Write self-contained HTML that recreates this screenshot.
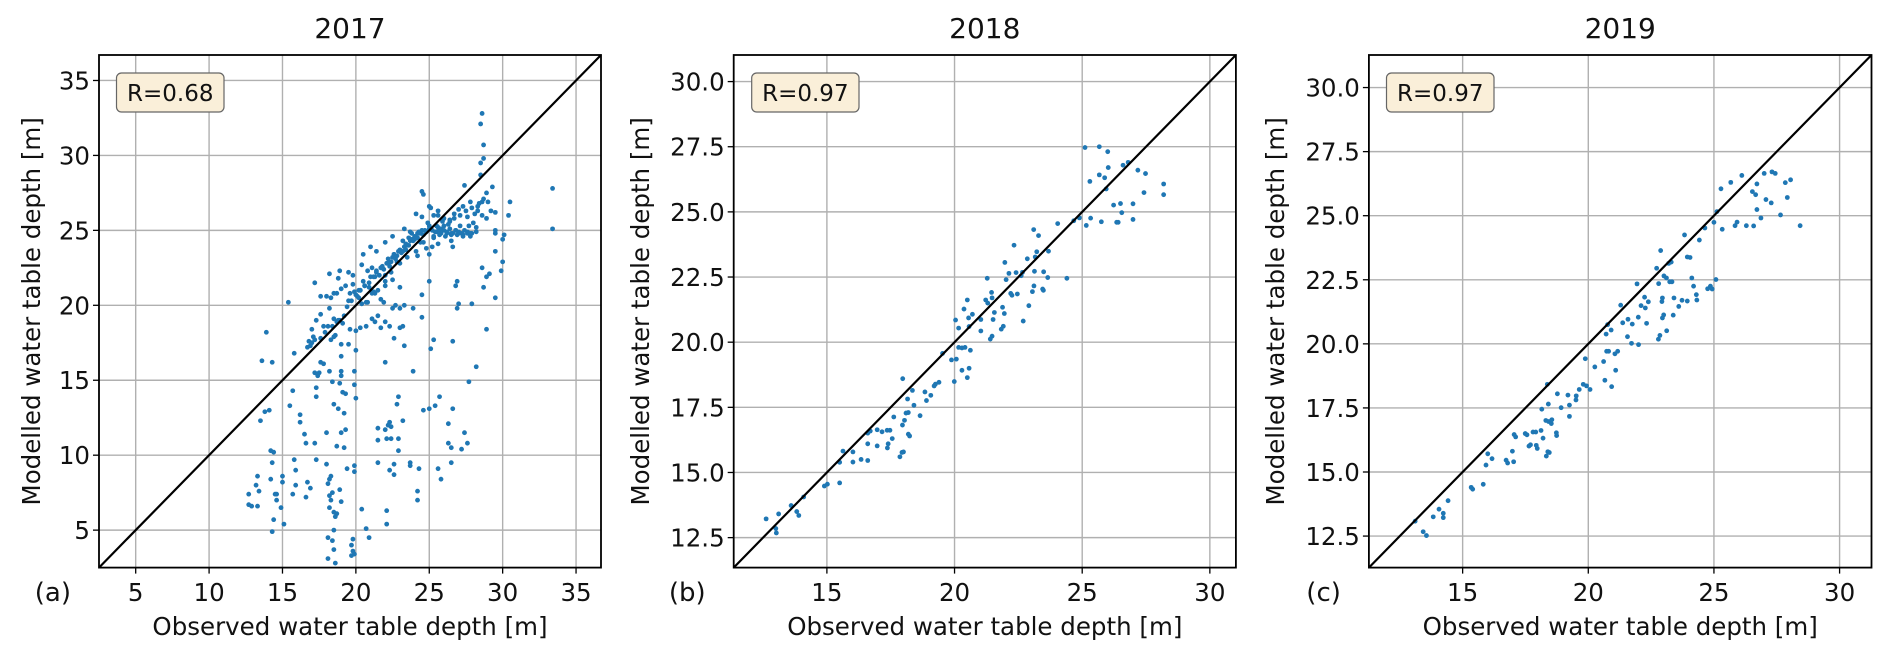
<!DOCTYPE html>
<html><head><meta charset="utf-8"><style>
body{margin:0;background:#fff}
svg{display:block;font-family:"DejaVu Sans","Liberation Sans",sans-serif}
</style></head><body>
<svg id="fig" width="1892" height="647" viewBox="0 0 1892 647" xmlns="http://www.w3.org/2000/svg"></svg>
<script>
const titles=["2017","2018","2019"];
const panelLetters=["(a)","(b)","(c)"];
const rLabels=["R=0.68","R=0.97","R=0.97"];
const ticks1=[5,10,15,20,25,30,35];
const ticks23=[12.5,15,17.5,20,22.5,25,27.5,30];
const xticks23=[15,20,25,30];
const obs2017=[33.4,33.4,28.6,28.5,28.7,28.7,28.5,28.5,29.3,28.9,27.4,30.5,30.4,30.1,30.0,30.0,29.9,29.5,29.5,28.9,28.7,28.9,28.6,29.1,28.2,27.7,27.9,26.9,26.8,26.9,27.0,26.6,25.1,25.3,25.7,25.4,25.0,24.6,26.6,26.3,27.4,27.6,26.3,26.5,27.2,26.5,25.6,25.8,24.3,23.7,23.7,24.2,24.2,22.9,22.8,22.3,22.2,22.0,22.4,23.2,21.5,21.5,22.1,22.4,22.9,22.9,22.6,22.3,21.5,22.6,22.1,22.1,20.7,20.9,20.4,19.9,19.9,19.8,19.7,19.8,19.7,19.9,18.5,18.6,18.1,18.1,18.4,18.5,18.6,18.5,18.2,18.3,18.2,18.4,18.1,18.2,18.3,18.0,18.0,18.7,19.2,19.0,19.3,19.4,18.9,19.0,18.7,17.3,17.2,16.7,16.9,16.6,16.6,16.5,16.2,16.2,15.8,15.9,15.9,15.7,15.5,15.7,15.0,15.0,14.9,15.1,14.6,14.5,14.6,14.4,14.3,14.3,14.4,14.2,14.2,13.3,13.2,13.3,13.4,12.7,12.7,12.9,13.5,13.8,14.1,13.6,14.3,13.9,15.4,15.8,17.2,18.9,18.2,17.3,17.4,17.5,17.2,17.6,17.8,17.3,18.5,18.8,18.4,19.2,18.9,19.1,19.3,19.0,19.0,19.0,18.2,19.9,20.0,19.5,20.0,19.9,22.0,22.6,23.3,23.9,23.0,22.3,22.0,21.5,21.1,21.3,20.7,21.7,20.3,19.6,24.5,23.9,24.5,25.0,23.2,21.3,22.5,23.0,
17,16.7,16.8,17,17.3,17.1,17.6,17.8,18.2,18.0,17.6,18.3,18.7,18.5,18.7,18.9,19.1,18.6,18.3,18.5,19.0,19.5,19.6,19.8,19.8,20.2,20.2,20.5,20.8,20.4,20.9,21.1,21.3,21.1,21.4,21.7,21.5,21.7,22.0,22.0,22.3,22.2,22.6,22.4,22.8,23.0,23.0,23.2,23.4,23.6,23.5,23.8,23.9,24.1,24.3,24.5,24.6,24.8,24.5,24.5,24.6,25.0,25.1,25.3,25.6,25.0,25.3,25.2,25.5,25.8,26.0,26.2,26.5,26.8,27.0,27.3,27.6,27.9,27.1,26.4,26.0,25.7,26.7,27.0,27.3,27.6,28.1,28.3,28.6,28.9,29.0,28.7,28.4,27.8,28.2,28.2,29.2,29.5,29.5,29.5,26.6,25.0,24.2,22.5,23.0,23.3,22.7,21.9,20.8,20.4,19.3,19.0,19.5,18.8,18.5,20.0,20.5,21.0,22.0,22.5,23.3,24.1,25.6,26.5,27.8,28.0,
20.1,20.3,20.6,20.9,21.2,21.4,21.6,21.9,22.1,22.3,22.5,22.7,22.9,23.1,23.3,23.5,23.7,23.9,24.0,24.2,24.4,24.6,24.8,25.0,25.2,25.4,25.6,25.8,26.0,26.2,26.4,26.6,26.8,27.0,27.2,27.4,27.6,27.8,24.3,24.7,25.1,25.5,25.9,26.3,26.7,27.1,27.5,27.9,22.2,22.6,23.0,23.4,23.8,24.2,21.0,21.4,21.8,22.4,22.8,23.2,23.6,24.0,19.4,19.7,20.0,20.3,20.6,18.4,18.8,19.2,17.6,17.9,18.1,16.9,17.2,25.3,25.7,26.1,26.5,26.9,27.3,24.9,24.1,23.7,22.0,21.2,20.7,19.9,24.4,25.6,26.4,27.7,28.3,28.6];
const mod2017=[27.8,25.1,32.8,32.1,30.7,29.8,29.5,28.7,27.9,27.5,28.0,26.9,26.0,24.7,24.4,22.9,22.3,23.6,20.5,18.4,21.2,21.9,22.5,22.1,15.9,14.9,20.1,19.8,21.3,21.6,20.1,17.6,17.1,17.7,13.9,13.3,13.1,13.0,13.1,12.1,11.5,10.8,10.8,10.5,10.4,9.5,9.1,8.4,9.1,9.5,9.3,7.6,7.0,13.9,13.4,12.2,12.0,11.7,11.9,12.3,11.8,11.0,11.1,11.1,11.1,10.3,9.4,9.0,9.5,8.7,6.3,5.4,5.1,4.5,6.4,9.3,8.9,4.4,4.0,3.6,3.3,3.4,3.7,2.8,3.1,4.5,4.3,5.0,5.9,6.2,6.5,7.0,7.3,7.5,8.1,8.4,8.6,9.4,11.5,10.6,10.5,11.5,11.7,9.1,7.7,6.9,6.1,9.7,10.8,8.2,7.8,10.8,7.2,11.4,12.7,12.2,9.7,9.0,8.0,7.4,13.3,14.3,8.6,8.2,6.5,5.4,7.4,7.4,7.0,5.7,4.9,9.5,10.2,10.3,8.4,8.6,8.0,6.6,7.6,7.4,6.7,6.6,12.3,12.9,13.0,16.3,16.2,18.2,20.2,16.8,21.5,22.3,22.1,14.5,15.3,15.5,15.5,16.2,16.1,13.9,13.4,13.1,14.9,12.8,14.8,14.2,14.1,15.6,15.3,16.6,15.6,14.7,13.8,17.4,17.0,15.6,16.2,17.8,17.3,15.6,18.5,18.6,18.9,19.3,19.1,18.9,18.6,18.5,18.5,18.4,19.2,19.8,20.7,21.6,18.6,20.8,19.8,19.8,
17.5,17.2,17.6,18.4,19.0,17.9,19.4,18.6,19.8,20.6,20.6,20.5,20.8,19.1,18.9,19.0,18.8,18.0,17.7,17.9,17.4,20.3,20.8,21.4,22.0,21.0,20.5,21.6,22.3,22.7,21.2,20.8,21.9,22.5,23.6,22.5,21.0,20.4,21.3,22.0,22.6,23.1,23.4,22.2,22.9,23.6,22.8,24.3,23.7,24.5,23.2,24.8,24.3,23.6,24.8,25.0,24.2,23.8,25.9,27.6,27.4,26.6,26.5,26.0,26.0,25.3,24.5,23.9,24.9,25.1,25.3,24.8,24.7,25.0,24.8,24.7,24.8,24.8,25.3,25.6,25.8,25.0,26.1,26.4,26.6,25.9,26.1,26.3,26.0,25.8,26.9,27.1,26.8,26.9,25.2,24.9,26.3,26.2,25.0,24.8,23.9,23.4,23.3,21.7,21.2,20.0,20.0,20.2,20.2,20.1,21.3,21.1,22.2,21.8,20.8,18.3,23.4,23.9,24.2,24.6,25.1,26.1,26.3,24.3,24.6,25.5,
20.6,21.0,21.3,21.5,21.9,22.2,22.0,22.4,22.8,22.9,23.2,23.1,23.6,23.5,23.9,24.0,24.3,24.4,24.6,24.5,24.8,24.7,24.9,25.1,25.0,24.9,25.2,24.8,25.0,24.9,25.1,24.8,25.0,24.9,24.8,25.0,24.9,24.8,24.9,25.0,25.1,25.3,25.6,25.4,25.8,26.0,26.3,26.5,22.8,23.4,23.7,24.1,24.4,24.8,21.9,22.3,22.6,22.9,23.3,23.6,24.0,24.4,19.9,20.3,20.7,21.0,21.3,18.6,19.0,19.3,17.8,18.2,18.6,17.3,17.7,24.6,24.7,24.6,24.8,24.7,24.6,25.5,24.5,24.9,21.6,20.9,20.2,20.9,24.2,24.1,25.7,25.3,26.6,26.9];
const obs2018=[12.62,13.0,13.02,13.11,13.6,13.82,13.9,14.09,14.9,15.02,15.5,15.5,15.63,16.02,16.02,16.34,16.6,16.6,16.6,16.7,16.97,16.97,17.16,17.36,17.47,17.4,17.37,17.56,17.62,17.86,17.94,18.0,17.97,17.96,18.04,18.1,18.19,18.16,18.19,18.24,18.35,18.41,18.65,18.84,18.9,19.07,19.2,19.25,19.39,19.53,19.88,19.99,20.04,20.07,20.16,20.16,20.29,20.41,20.62,20.29,20.5,20.57,20.37,20.5,20.55,20.7,20.57,21.03,21.03,21.22,21.3,21.28,21.4,21.47,21.45,21.47,21.56,21.51,21.88,21.95,21.91,21.83,21.97,22.02,22.13,22.2,22.25,22.33,22.41,22.46,22.66,22.61,22.69,22.85,22.91,23.05,23.11,23.1,23.13,23.16,23.22,23.29,23.45,23.48,23.49,23.68,23.65,24.04,24.4,24.67,24.89,25.11,25.16,25.3,25.33,25.67,25.67,25.75,25.88,25.94,26.0,26.02,26.23,26.35,26.41,26.5,26.55,26.6,26.8,26.99,26.99,27.18,27.48,27.42,28.19,28.19];
const mod2018=[13.22,12.85,12.68,13.41,13.73,13.5,13.35,14.06,14.48,14.55,14.6,15.39,15.82,15.79,15.4,15.5,15.46,16.1,16.51,16.59,16.02,16.64,16.56,16.62,16.62,16.1,15.94,16.3,17.13,15.6,15.77,15.79,18.6,16.82,17.0,17.28,17.3,17.82,16.47,16.4,18.15,17.58,17.18,18.09,17.76,17.96,18.32,18.39,18.46,19.57,19.32,18.49,20.85,19.35,20.54,19.8,19.78,19.8,19.69,18.92,18.64,19.0,21.27,21.62,20.93,21.07,20.6,20.43,20.87,21.62,21.5,22.45,20.12,20.23,21.91,21.7,21.14,20.87,21.34,21.1,20.61,20.5,23.06,22.4,22.64,21.87,21.8,23.72,22.67,21.85,22.68,22.55,20.81,23.2,21.4,21.94,22.16,24.32,22.72,23.27,23.47,24.09,22.04,21.99,22.7,23.49,22.48,24.55,22.45,24.66,24.77,27.47,24.48,26.17,24.76,27.5,26.42,24.62,26.31,25.88,27.31,26.7,25.26,24.6,24.6,25.32,24.97,26.79,26.9,25.31,24.71,26.6,26.47,25.74,26.07,25.66];
const obs2019=[13.11,13.43,13.56,13.83,14.06,14.23,14.23,14.42,15.34,15.4,15.82,15.93,16.0,16.17,16.73,16.79,17.03,16.98,17.05,17.11,17.49,17.56,17.8,17.91,17.64,17.7,17.93,17.97,18.12,18.15,18.2,18.31,18.42,18.53,18.55,18.39,18.45,18.33,18.37,18.41,18.73,18.74,18.77,18.92,19.19,19.25,19.25,19.51,19.52,19.64,19.88,19.8,19.93,20.07,20.26,20.61,20.66,20.93,21.09,20.71,20.77,20.91,20.73,20.81,21.06,21.17,21.29,21.37,21.56,21.58,21.75,21.72,22.0,21.94,21.99,22.1,22.24,22.27,22.32,22.39,22.72,22.8,22.88,22.79,22.85,22.93,22.95,22.95,23.0,23.01,23.11,23.12,23.2,23.3,23.24,23.33,23.38,23.41,23.6,23.73,23.83,23.94,24.05,23.94,24.12,24.19,24.3,24.32,24.42,24.64,24.75,24.86,24.93,25.08,25.0,25.12,25.28,25.33,25.67,25.84,25.92,26.11,26.29,26.58,26.53,26.66,26.71,26.71,26.87,27.0,27.07,27.28,27.31,27.44,27.65,27.84,27.92,28.05,28.43];
const mod2019=[13.08,12.67,12.52,13.25,13.55,13.39,13.22,13.88,14.4,14.33,14.52,15.27,15.71,15.52,15.46,15.35,15.4,15.81,16.46,16.37,16.5,16.45,16.56,16.56,16.01,16.06,16.04,15.92,16.62,17.45,16.32,17.01,16.97,16.89,17.04,15.79,15.76,15.62,18.42,17.65,16.53,16.42,18.05,17.51,18.0,17.61,17.17,17.81,17.97,18.22,19.42,18.42,18.36,18.22,19.1,19.31,18.58,18.33,18.97,20.38,20.75,20.54,19.71,19.71,19.61,19.71,21.51,20.82,20.28,20.96,20.77,20.02,19.97,22.34,21.04,21.49,21.82,21.4,20.8,21.64,22.95,22.35,23.64,20.18,20.33,21.65,21.79,21.01,21.13,22.65,22.57,20.51,23.14,23.19,22.42,22.42,21.12,21.79,21.46,21.7,24.25,23.39,23.37,21.67,22.57,22.25,21.92,21.71,24.05,24.52,22.15,22.25,22.14,22.51,24.74,25.16,26.05,24.47,26.3,24.61,24.75,26.57,24.61,24.6,25.94,25.82,26.24,25.24,24.91,26.65,25.63,25.5,26.71,26.65,25.03,26.29,25.71,26.4,24.61];

const NS="http://www.w3.org/2000/svg";
const svg=document.getElementById('fig');
function mk(tag,attrs,parent,text){const e=document.createElementNS(NS,tag);for(const k in attrs)e.setAttribute(k,attrs[k]);if(text!==undefined)e.textContent=text;(parent||svg).appendChild(e);return e;}

const panels=[
 {L:99,R:601,T:55,B:567.6,min:2.5,max:36.7,xt:ticks1,yt:ticks1,fmt:v=>String(v),obs:obs2017,mod:mod2017,ylx:32,box:[116.5,224]},
 {L:733.7,R:1235.9,T:55,B:567.6,min:11.35,max:31.02,xt:xticks23,yt:ticks23,fmt:v=>v.toFixed(1),obs:obs2018,mod:mod2018,ylx:641,box:[751.7,859]},
 {L:1368.9,R:1871.5,T:55,B:567.6,min:11.27,max:31.27,xt:xticks23,yt:ticks23,fmt:v=>v.toFixed(1),obs:obs2019,mod:mod2019,ylx:1276,box:[1386.5,1494]}
];
panels.forEach((p,i)=>{
  const g=mk('g',{});
  
  
  const sx=v=>p.L+(v-p.min)/(p.max-p.min)*(p.R-p.L);
  const sy=v=>p.B-(v-p.min)/(p.max-p.min)*(p.B-p.T);
  p.xt.forEach(v=>{
    const l=mk('line',{x1:sx(v),x2:sx(v),y1:p.T,y2:p.B,stroke:'#b0b0b0','stroke-width':1.4},g);
    
    mk('line',{x1:sx(v),x2:sx(v),y1:p.B,y2:p.B+6,stroke:'#000','stroke-width':1.3},g);
    const t=mk('text',{x:sx(v),y:601,'text-anchor':'middle','font-size':24.5,fill:'#111'},g,String(v));
    
  });
  p.yt.forEach(v=>{
    const l=mk('line',{x1:p.L,x2:p.R,y1:sy(v),y2:sy(v),stroke:'#b0b0b0','stroke-width':1.4},g);
    
    mk('line',{x1:p.L-6,x2:p.L,y1:sy(v),y2:sy(v),stroke:'#000','stroke-width':1.3},g);
    const t=mk('text',{x:p.L-9,y:sy(v)+9,'text-anchor':'end','font-size':24.5,fill:'#111'},g,p.fmt(v));
    
  });
  p.obs.forEach((o,k)=>{
    const c=mk('circle',{cx:sx(o),cy:sy(p.mod[k]),r:2.4,fill:'#1f77b4'},g);
    
  });
  const d=mk('line',{x1:sx(p.min),y1:sy(p.min),x2:sx(p.max),y2:sy(p.max),stroke:'#000','stroke-width':2.2},g);
  
  const fr=mk('rect',{x:p.L,y:p.T,width:p.R-p.L,height:p.B-p.T,fill:'none',stroke:'#000','stroke-width':1.8},g);
  
  const bx=mk('rect',{x:p.box[0],y:73,width:p.box[1]-p.box[0],height:39,rx:5,fill:'#faefd9',stroke:'#666','stroke-width':1.2},g);
  
  const rt=mk('text',{x:(p.box[0]+p.box[1])/2,y:101,'text-anchor':'middle','font-size':23,fill:'#111'},g,rLabels[i]);
  
  const tt=mk('text',{x:(p.L+p.R)/2,y:38,'text-anchor':'middle','font-size':28,fill:'#111'},g,titles[i]);
  
  const xl=mk('text',{x:(p.L+p.R)/2,y:635,'text-anchor':'middle','font-size':24.5,fill:'#111'},g,'Observed water table depth [m]');
  
  const yc=(p.T+p.B)/2;
  const yl=mk('text',{x:p.ylx+8,y:yc,'text-anchor':'middle','font-size':24.5,fill:'#111',transform:`rotate(-90 ${p.ylx+8} ${yc})`},g,'Modelled water table depth [m]');
  
  const pl=mk('text',{x:p.L-28,y:601,'text-anchor':'end','font-size':26,fill:'#111'},g,panelLetters[i]);
  
});
</script>
</body></html>
